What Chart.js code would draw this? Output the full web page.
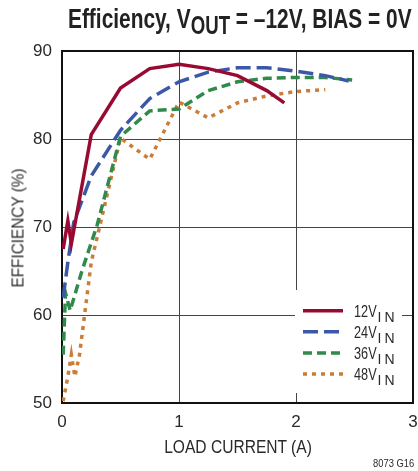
<!DOCTYPE html>
<html>
<head>
<meta charset="utf-8">
<script src="https://cdn.jsdelivr.net/npm/chart.js@4"></script>
<style>
  body { margin: 0; background: #fff; }
  #wrap { position: relative; width: 418px; height: 471px; overflow: hidden; font-family: "Liberation Sans", Arial, sans-serif; color: #2a2a2a; }
  canvas { position: absolute; left: 0; top: 0; }
  .txt { position: absolute; white-space: nowrap; }
  #title { right: 6px; top: 5px; font-size: 28px; line-height: 28px; font-weight: bold; color: #222; transform-origin: right center; }
  #title sub { font-size: 25px; vertical-align: -6px; line-height: 0; }
  #xtitle { left: 238px; top: 438px; font-size: 18px; line-height: 18px; }
  #ytitle { left: 18px; top: 228px; font-size: 17px; line-height: 17px; }
  #code { right: 4px; top: 458px; font-size: 10.5px; line-height: 10.5px; transform-origin: right center; }
</style>
</head>
<body>
<div id="wrap">
  <canvas id="chart" width="418" height="471"></canvas>
  <div id="title" class="txt">Efficiency, V<sub>OUT</sub> = –12V, BIAS = 0V</div>
  <div id="xtitle" class="txt">LOAD CURRENT (A)</div>
  <div id="ytitle" class="txt">EFFICIENCY (%)</div>
  <div id="code" class="txt">8073 G16</div>
</div>
<script>
// values
const load12 = [0.01, 0.05, 0.08, 0.25, 0.5, 0.75, 1.0, 1.25, 1.5, 1.75, 1.9];
const eff12 = [67.5, 70.7, 68.1, 80.5, 85.8, 88.0, 88.5, 88.0, 87.2, 85.5, 84.1];
const load24 = [0.01, 0.05, 0.1, 0.25, 0.5, 0.75, 1.0, 1.25, 1.5, 1.75, 2.0, 2.25, 2.45];
const eff24 = [62.0, 66.0, 70.5, 75.8, 81.0, 84.6, 86.5, 87.6, 88.1, 88.1, 87.7, 87.2, 86.6];
const load36 = [0.01, 0.03, 0.07, 0.17, 0.3, 0.5, 0.75, 1.0, 1.25, 1.5, 1.75, 2.0, 2.25, 2.48];
const eff36 = [55.5, 62.5, 60.5, 65.0, 70.2, 80.3, 83.2, 83.4, 85.5, 86.5, 86.9, 87.0, 87.0, 86.7];
const load48 = [0.01, 0.05, 0.08, 0.11, 0.15, 0.25, 0.5, 0.75, 1.0, 1.25, 1.5, 1.75, 2.0, 2.25];
const eff48 = [50.2, 53.0, 55.5, 53.0, 55.5, 66.0, 80.1, 77.7, 84.2, 82.4, 84.1, 84.9, 85.4, 85.6];
const seriesNames = ['12V', '24V', '36V', '48V'];
const xTicks = [0, 1, 2, 3];
const yTicks = [50, 60, 70, 80, 90];

const FONT = '"Liberation Sans", Arial, sans-serif';
const TEXT = '#2a2a2a';

// squeeze the html labels so they look like the condensed face of the original
function squeeze(id, width, extra) {
  const el = document.getElementById(id);
  const k = width / el.offsetWidth;
  el.style.transform = (extra || '') + ' scaleX(' + k.toFixed(3) + ')';
}
squeeze('title', 344);
squeeze('code', 41);
squeeze('xtitle', 148, 'translateX(-50%)');
squeeze('ytitle', 119, 'translate(-50%, -50%) rotate(-90deg)');

function pts(xs, ys) {
  return xs.map((x, i) => ({ x: x, y: ys[i] }));
}

const styles = [
  { color: '#990a33', dash: [] },
  { color: '#3b58a8', dash: [15, 6] },
  { color: '#2f8a4c', dash: [9, 5] },
  { color: '#c97d38', dash: [4, 5] }
];
const allData = [pts(load12, eff12), pts(load24, eff24), pts(load36, eff36), pts(load48, eff48)];

const datasets = allData.map((d, i) => ({
  label: seriesNames[i],
  data: d,
  borderColor: styles[i].color,
  borderDash: styles[i].dash,
  borderWidth: 3.5,
  borderCapStyle: 'butt',
  pointRadius: 0,
  tension: 0,
  fill: false
}));

// box round the plot and the legend sitting inside it
const framePlugin = {
  id: 'frame',
  beforeDatasetsDraw(chart) {
    const { ctx, chartArea: a } = chart;
    ctx.save();
    ctx.strokeStyle = '#111';
    ctx.lineWidth = 2;
    ctx.strokeRect(a.left, a.top, a.right - a.left, a.bottom - a.top);
    ctx.restore();
  },
  afterDatasetsDraw(chart) {
    const { ctx, chartArea: a } = chart;
    ctx.save();
    ctx.fillStyle = '#fff';
    ctx.fillRect(a.right - 118, a.bottom - 113, 107, 103);
    chart.data.datasets.forEach((ds, i) => {
      const y = a.bottom - 92.3 + i * 21.1;
      ctx.strokeStyle = ds.borderColor;
      ctx.lineWidth = 3.5;
      ctx.setLineDash(ds.borderDash);
      ctx.beginPath();
      ctx.moveTo(a.right - 110, y);
      ctx.lineTo(a.right - 70, y);
      ctx.stroke();
      ctx.setLineDash([]);
      ctx.fillStyle = TEXT;
      ctx.textBaseline = 'alphabetic';
      ctx.textAlign = 'left';
      const tx = a.right - 59;
      ctx.font = '16.5px ' + FONT;
      ctx.save();
      ctx.translate(tx, y + 6);
      ctx.scale(0.77, 1);
      ctx.fillText(ds.label, 0, 0);
      const w = ctx.measureText(ds.label).width * 0.77;
      ctx.restore();
      ctx.font = '14px ' + FONT;
      ctx.letterSpacing = '3px';
      ctx.fillText('IN', tx + w + 1, y + 11);
      ctx.letterSpacing = '0px';
    });
    ctx.restore();
  }
};

new Chart(document.getElementById('chart'), {
  type: 'line',
  data: { datasets },
  options: {
    responsive: false,
    animation: false,
    devicePixelRatio: 1,
    layout: { padding: { left: 0, right: 5, top: 51, bottom: 0 } },
    plugins: { legend: { display: false }, tooltip: { enabled: false } },
    scales: {
      x: {
        type: 'linear', min: 0, max: 3,
        afterBuildTicks: s => { s.ticks = xTicks.map(v => ({ value: v })); },
        afterFit: s => { s.height = 68; s.paddingLeft = 0; s.paddingRight = 0; },
        ticks: { font: { family: FONT, size: 17 }, color: TEXT, padding: 9 },
        grid: { color: '#444', lineWidth: 1, drawTicks: false },
        border: { display: false }
      },
      y: {
        min: 50, max: 90,
        afterBuildTicks: s => { s.ticks = yTicks.map(v => ({ value: v })); },
        afterFit: s => { s.width = 62; s.paddingTop = 0; s.paddingBottom = 0; },
        ticks: { font: { family: FONT, size: 17 }, color: TEXT, padding: 10 },
        grid: { color: '#444', lineWidth: 1, drawTicks: false },
        border: { display: false }
      }
    }
  },
  plugins: [framePlugin]
});
</script>
</body>
</html>
